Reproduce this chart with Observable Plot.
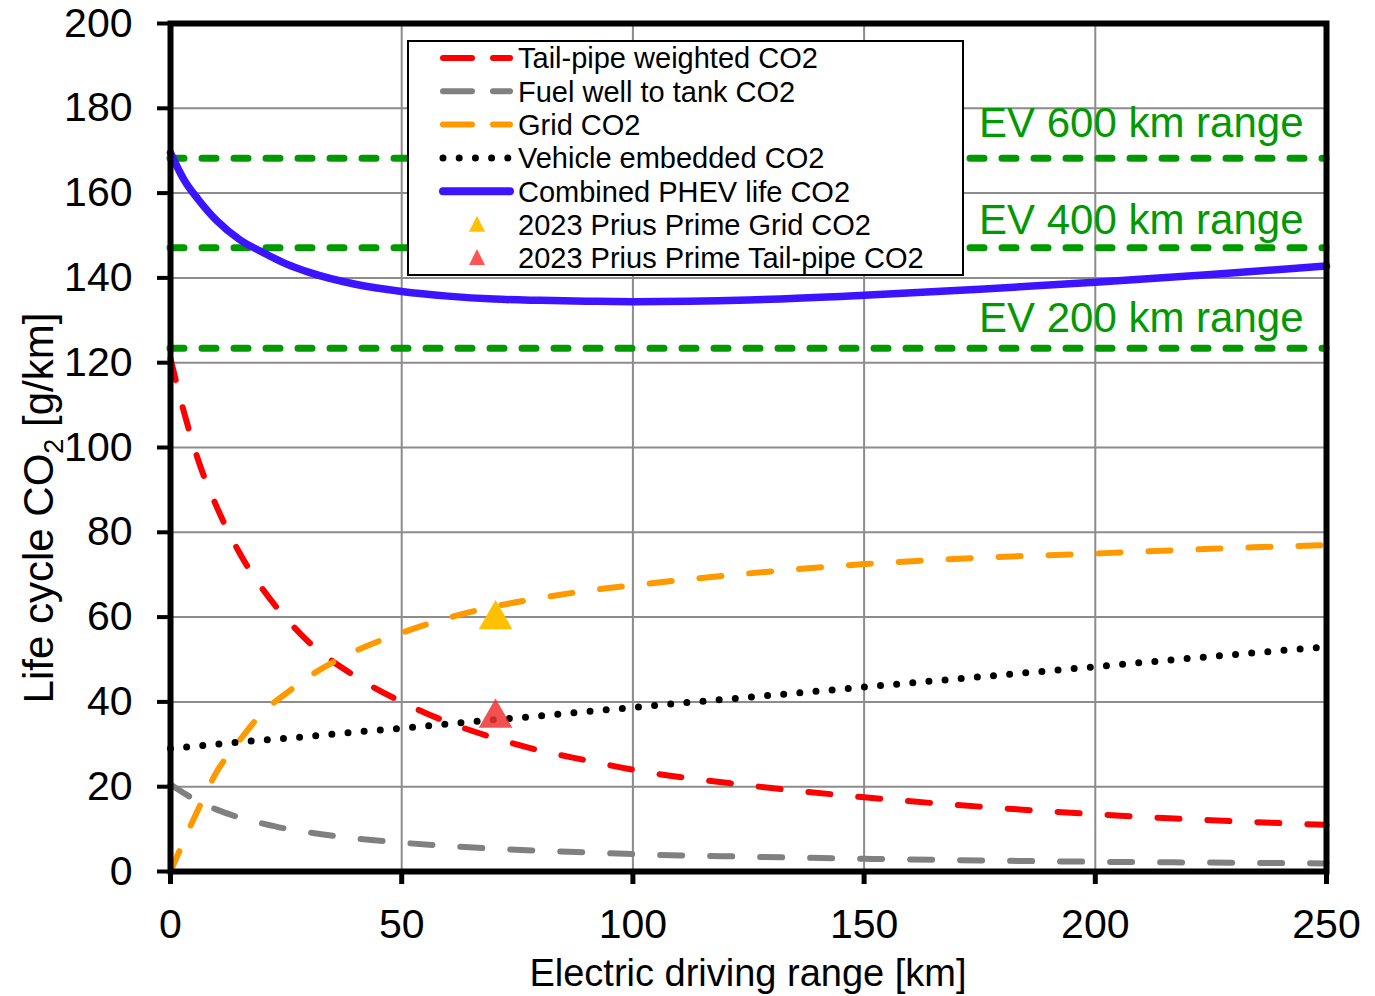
<!DOCTYPE html>
<html><head><meta charset="utf-8">
<script src="https://cdn.jsdelivr.net/npm/d3@7"></script>
<script src="https://cdn.jsdelivr.net/npm/@observablehq/plot@0.6"></script>
<style>body{margin:0;background:#fff;} #chart{width:1375px;height:996px;}</style>
</head><body><div id="chart"></div>
<script>
// ---- data ----
const km       = [0, 3, 6, 10, 15, 20, 25, 30, 40, 50, 60, 70, 80, 90, 100, 125, 150, 175, 200, 225, 250];
const tailpipe = [121, 108, 97, 86, 75, 66.5, 59.7, 54, 46, 40, 35.2, 31.5, 28.5, 26.2, 24, 20.3, 17.5, 15.3, 13.5, 12.1, 11];
const fuelWTT  = [20.5, 18.4, 16.5, 14.6, 12.7, 11.3, 10.1, 9.2, 7.8, 6.8, 6.0, 5.4, 4.9, 4.5, 4.1, 3.5, 3.0, 2.6, 2.3, 2.1, 1.9];
const gridCO2  = [0, 7.5, 14.7, 23.5, 31, 37.6, 42, 46, 52, 56.3, 59.8, 62.5, 64.5, 66.2, 67.5, 70.3, 72.5, 74, 75, 76.1, 77];
const vehicle  = [29, 29.3, 29.6, 30, 30.5, 31, 31.4, 31.9, 32.9, 33.8, 34.8, 35.8, 36.7, 37.7, 38.7, 41.1, 43.5, 45.9, 48.3, 50.7, 53];
const combined = [169.5, 163, 158.5, 153.5, 149, 146, 143.3, 141.3, 138.5, 136.8, 135.7, 135, 134.7, 134.5, 134.4, 134.8, 135.9, 137.3, 139, 140.8, 142.8];

const priusKm   = [70.3];
const priusGrid = [60.6];
const priusTail = [37.4];

const evLabels = ["EV 600 km range", "EV 400 km range", "EV 200 km range"];
const evValues = [168.2, 147.1, 123.4];

const xTicks = [0, 50, 100, 150, 200, 250];
const yTicks = [0, 20, 40, 60, 80, 100, 120, 140, 160, 180, 200];

const legendLabels = ["Tail-pipe weighted CO2", "Fuel well to tank CO2", "Grid CO2",
  "Vehicle embedded CO2", "Combined PHEV life CO2", "2023 Prius Prime Grid CO2", "2023 Prius Prime Tail-pipe CO2"];

const xTitle = "Electric driving range [km]";

// ---- build table ----
const rows = km.map((k, i) => ({km: k, tailpipe: tailpipe[i], fuel: fuelWTT[i], grid: gridCO2[i], vehicle: vehicle[i], combined: combined[i]}));

const FONT = "'Liberation Sans', Arial, sans-serif";
const C = {red: "#ff0000", gray: "#808080", orange: "#ff9900", black: "#000000", blue: "#3d14ff", green: "#009900", yellow: "#ffc000", redTri: "#ee3333"};
const labelDy = [-21, -14, -16];

const ln = (key, color, dash, width) => Plot.line(rows, {
  x: "km", y: key, stroke: color, strokeWidth: width, strokeDasharray: dash,
  strokeLinecap: "round", strokeLinejoin: "round", curve: "monotone-x"
});

const chart = Plot.plot({
  width: 1375, height: 996,
  marginLeft: 170, marginRight: 49, marginTop: 23, marginBottom: 125,
  style: {fontFamily: FONT, background: "#fff", color: "#000"},
  x: {domain: [0, 250]},
  y: {domain: [0, 200]},
  marks: [
    Plot.gridX({ticks: xTicks, stroke: "#8c8c8c", strokeOpacity: 1, strokeWidth: 2}),
    Plot.gridY({ticks: yTicks, stroke: "#8c8c8c", strokeOpacity: 1, strokeWidth: 2}),
    Plot.ruleY(evValues, {stroke: C.green, strokeWidth: 7, strokeDasharray: "14,18", strokeLinecap: "round"}),
    ...evLabels.map((t, i) => Plot.text([t], {
      y: () => evValues[i], text: d => d, frameAnchor: "right", textAnchor: "end",
      dx: -23, lineAnchor: "bottom", dy: labelDy[i], fill: C.green, fontSize: 42
    })),
    ln("tailpipe", C.red, "22,28", 6),
    ln("fuel", C.gray, "22,28", 6),
    ln("grid", C.orange, "22,28", 6),
    ln("vehicle", C.black, "0,16.2", 7),
    ln("combined", C.blue, null, 7.5),
    Plot.dot(priusKm, {x: d => d, y: (d, i) => priusGrid[i], symbol: "triangle", r: 12.5, fill: C.yellow, stroke: "none", dy: 5}),
    Plot.dot(priusKm, {x: d => d, y: (d, i) => priusTail[i], symbol: "triangle", r: 12.5, fill: C.redTri, fillOpacity: 0.85, stroke: "none", dy: 5}),
    Plot.axisX({ticks: xTicks, tickSize: 13, tickPadding: 24, strokeWidth: 5, fontSize: 41, label: null}),
    Plot.axisY({ticks: yTicks, tickSize: 13, tickPadding: 25, strokeWidth: 4, fontSize: 41, label: null}),
    Plot.frame({stroke: "#000", strokeWidth: 6})
  ]
});

document.getElementById("chart").appendChild(chart);
const svg = d3.select(chart);

// Axis titles
svg.append("text").attr("x", 748).attr("y", 986).attr("text-anchor", "middle")
  .attr("font-family", FONT).attr("font-size", 38).attr("fill", "#000").text(xTitle);

const yt = svg.append("text").attr("transform", "translate(53,508) rotate(-90)")
  .attr("text-anchor", "middle").attr("font-family", FONT).attr("font-size", 42).attr("fill", "#000");
yt.append("tspan").text("Life cycle CO");
yt.append("tspan").attr("font-size", 27).attr("dy", 10).text("2");
yt.append("tspan").attr("dy", -10).text(" [g/km]");

// Legend
const lg = svg.append("g").attr("font-family", FONT).attr("text-anchor", "start");
lg.append("rect").attr("x", 408).attr("y", 41).attr("width", 555).attr("height", 234)
  .attr("fill", "#fff").attr("stroke", "#000").attr("stroke-width", 2);
const rowY = i => 58 + i * 33.3;
const sw = [
  {color: C.red, dash: "29,21", w: 6},
  {color: C.gray, dash: "29,21", w: 6},
  {color: C.orange, dash: "29,21", w: 6},
  {color: C.black, dash: "0,16.2", w: 7},
  {color: C.blue, dash: null, w: 8}
];
sw.forEach((s, i) => {
  const l = lg.append("line").attr("x1", 443).attr("x2", 510).attr("y1", rowY(i)).attr("y2", rowY(i))
    .attr("stroke", s.color).attr("stroke-width", s.w).attr("stroke-linecap", "round");
  if (s.dash) l.attr("stroke-dasharray", s.dash);
});
const tri = (cx, cy, size, color) => lg.append("path")
  .attr("d", `M${cx},${cy - size * 0.55}L${cx + size / 2},${cy + size * 0.45}L${cx - size / 2},${cy + size * 0.45}Z`)
  .attr("fill", color);
tri(477, rowY(5), 16, C.yellow);
tri(477, rowY(6), 16, "#ff5555");
legendLabels.forEach((t, i) => {
  lg.append("text").attr("x", 518).attr("y", rowY(i)).attr("dy", "0.36em").attr("text-anchor", "start")
    .attr("font-size", 29).attr("fill", "#000").text(t);
});
</script>
</body></html>
